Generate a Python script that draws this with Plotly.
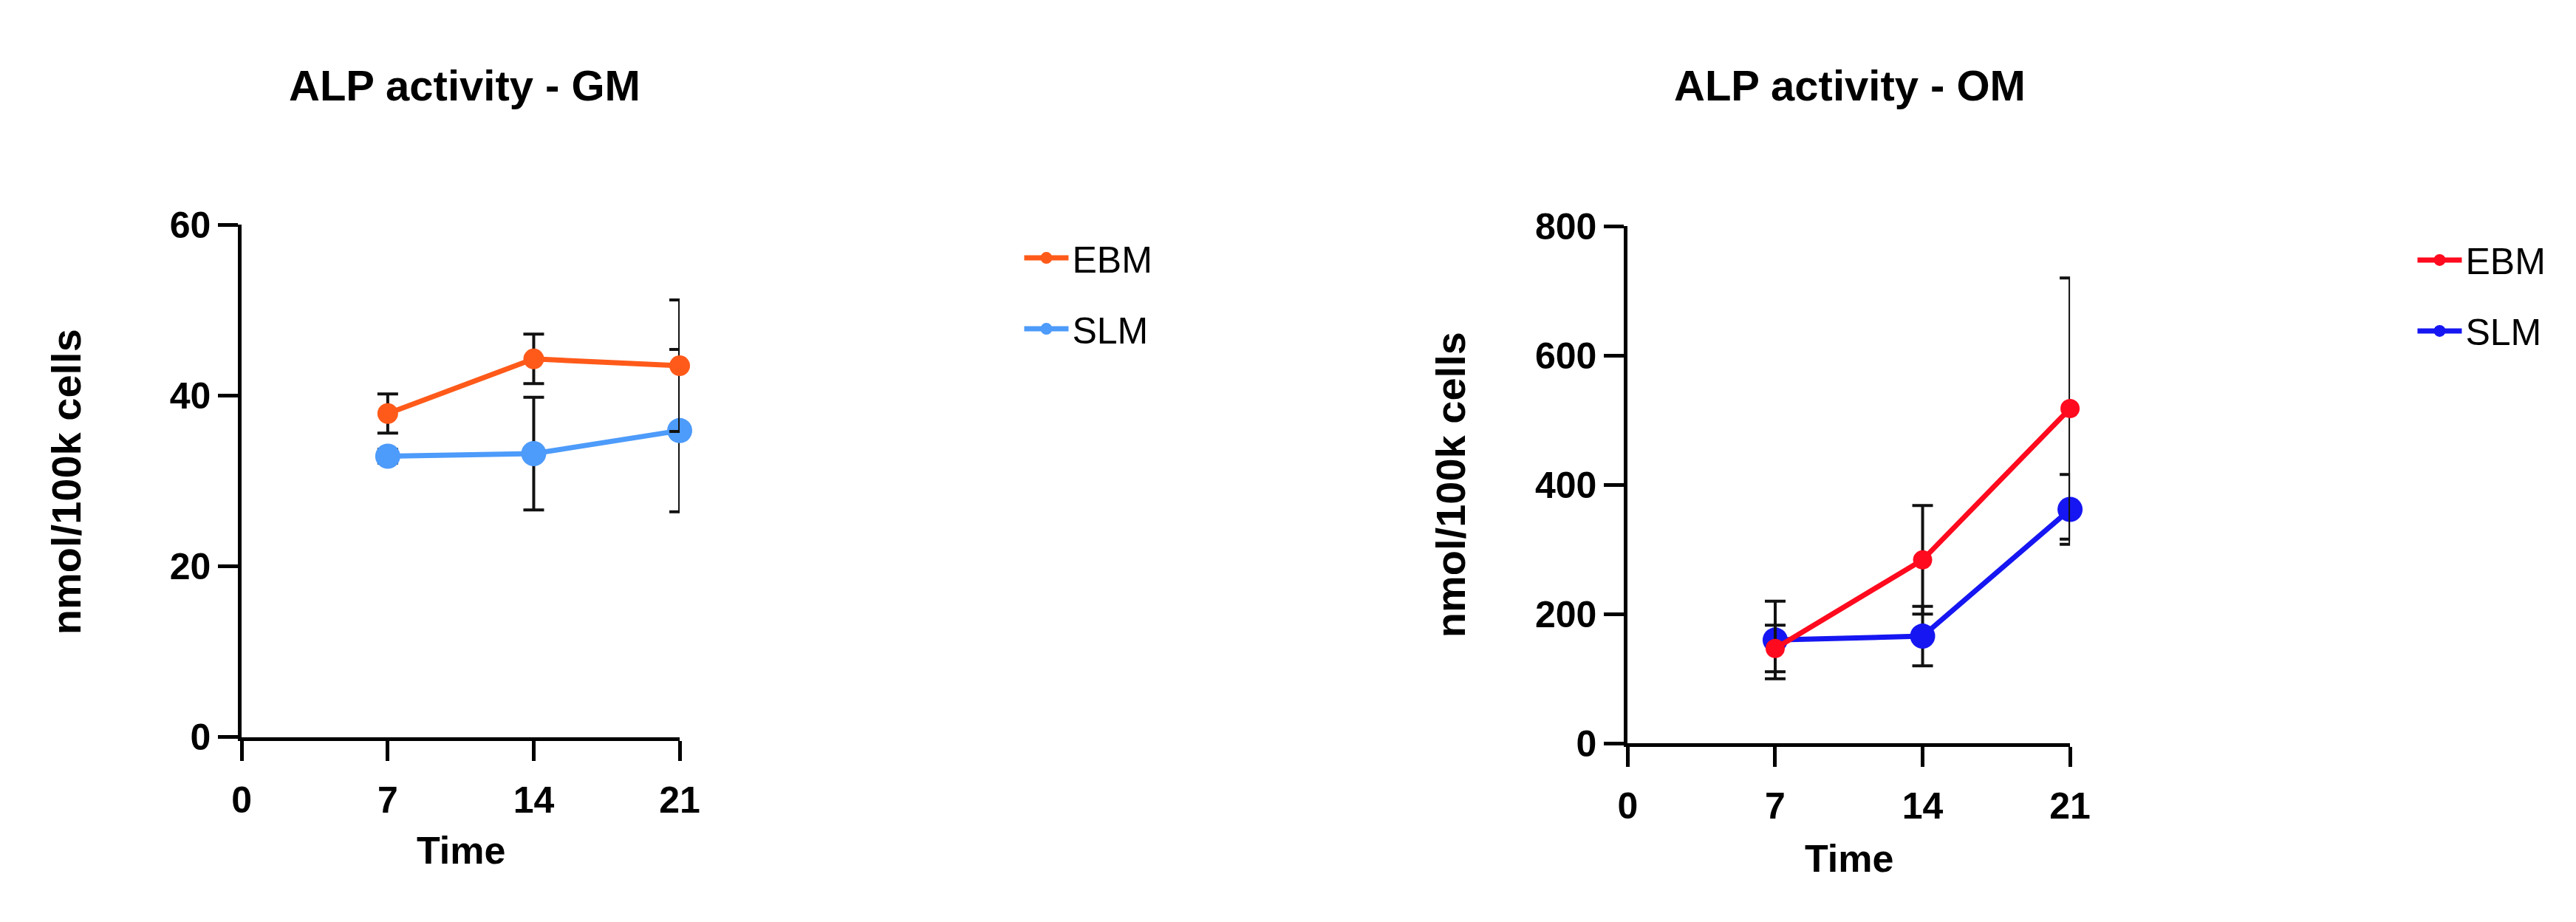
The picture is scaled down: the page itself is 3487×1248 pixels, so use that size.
import plotly.graph_objects as go

W, H = 3487, 1248

# ---------------- data ----------------
days = [7, 14, 21]

gm_ebm = [37.9, 44.3, 43.5]
gm_ebm_err = [2.3, 2.9, 7.7]
gm_slm = [32.9, 33.2, 35.9]
gm_slm_err = [0.8, 6.6, 9.5]

om_ebm = [147, 284, 518]
om_ebm_err = [36, 84, 202]
om_slm = [160, 166, 362]
om_slm_err = [60, 46, 54]

x_ticks = [0, 7, 14, 21]
gm_y_ticks = [0, 20, 40, 60]
om_y_ticks = [0, 200, 400, 600, 800]

titles = ["ALP activity - GM", "ALP activity - OM"]
y_title = "nmol/100k cells"
x_title = "Time"

# ---------------- style ----------------
FONT = "Liberation Sans, Arial, Helvetica, sans-serif"

C_ORANGE = "#FF5A1A"
C_LBLUE = "#4D9BFA"
C_RED = "#FF0A1E"
C_BLUE = "#1616F2"

def px(x):
    return x / W

def py(y):
    return 1 - y / H

fig = go.Figure()

def add_series(xa, ya, y, err, color, size, name, legend, rank):
    fig.add_trace(go.Scatter(
        x=days, y=y, mode="lines+markers", name=name,
        xaxis=xa, yaxis=ya, legend=legend, legendrank=rank,
        legendgroup=legend + name,
        line=dict(color=color, width=7),
        marker=dict(color=color, size=size, line=dict(width=0)),
        error_y=dict(type="data", array=err, visible=True,
                     color="#111111", thickness=4, width=14),
        cliponaxis=False,
    ))

# draw SLM first so EBM sits on top; legend order EBM, SLM
add_series("x", "y", gm_slm, gm_slm_err, C_LBLUE, 34, "SLM", "legend", 2)
add_series("x", "y", gm_ebm, gm_ebm_err, C_ORANGE, 28, "EBM", "legend", 1)
add_series("x2", "y2", om_slm, om_slm_err, C_BLUE, 34, "SLM", "legend2", 2)
add_series("x2", "y2", om_ebm, om_ebm_err, C_RED, 26, "EBM", "legend2", 1)

axis_common = dict(
    showline=True, linecolor="black", linewidth=5,
    ticks="outside", ticklen=27, tickwidth=5, tickcolor="black",
    showgrid=False, zeroline=False,
    tickfont=dict(family=FONT, size=50, color="black", weight="bold"),
    fixedrange=True,
)

legend_common = dict(
    xanchor="left", yanchor="top",
    font=dict(family=FONT, size=50, color="black"),
    itemwidth=60, tracegroupgap=28, bgcolor="rgba(0,0,0,0)",
    traceorder="grouped",
)

fig.update_layout(
    width=W, height=H,
    margin=dict(l=0, r=0, t=0, b=0),
    paper_bgcolor="white", plot_bgcolor="white",
    xaxis=dict(domain=[px(309), px(909)], range=[0, 21], tickvals=x_ticks,
               anchor="y", ticklabelstandoff=10, **axis_common),
    yaxis=dict(domain=[py(1008), py(282)], range=[0, 60], tickvals=gm_y_ticks,
               anchor="x", **axis_common),
    xaxis2=dict(domain=[px(2208), px(2814)], range=[0, 21], tickvals=x_ticks,
                anchor="y2", ticklabelstandoff=10, **axis_common),
    yaxis2=dict(domain=[py(1017), py(284)], range=[0, 800], tickvals=om_y_ticks,
                anchor="x2", **axis_common),
    legend=dict(x=px(1376), y=py(288), **legend_common),
    legend2=dict(x=px(3285), y=py(291), **legend_common),
    showlegend=True,
)

ann = []
# plot titles
for cx, t in [(614, titles[0]), (2512, titles[1])]:
    ann.append(dict(x=px(cx), y=py(84), xref="paper", yref="paper",
                    text=t, showarrow=False, xanchor="center", yanchor="middle",
                    font=dict(family=FONT, size=58, color="black", weight="bold")))
# x axis titles
for cx, cy in [(609, 1168), (2511, 1180)]:
    ann.append(dict(x=px(cx), y=py(cy), xref="paper", yref="paper",
                    text=x_title, showarrow=False, xanchor="center", yanchor="middle",
                    font=dict(family=FONT, size=52, color="black", weight="bold")))
# y axis titles
for cx, cy in [(68, 646), (1966, 650)]:
    ann.append(dict(x=px(cx), y=py(cy), xref="paper", yref="paper",
                    text=y_title, showarrow=False, textangle=-90,
                    xanchor="center", yanchor="middle",
                    font=dict(family=FONT, size=56, color="black", weight="bold")))
fig.update_layout(annotations=ann)

fig.write_html("out.html")
